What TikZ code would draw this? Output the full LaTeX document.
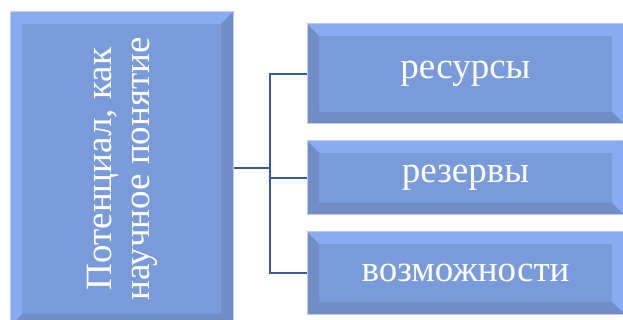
\documentclass[tikz,border=0pt]{standalone}
\usepackage{fontspec}
\setmainfont{Liberation Serif}
\definecolor{boxfill}{RGB}{122,155,218}
\definecolor{bevlight}{RGB}{137,171,241}
\definecolor{bevdark}{RGB}{113,141,197}
\definecolor{edgecol}{RGB}{192,204,228}
\definecolor{conncol}{RGB}{56,88,158}
\newlength\bw \setlength\bw{12pt}
\tikzset{
 bevel/.style n args={4}{path picture={
  \fill[#1] (path picture bounding box.north west) -- (path picture bounding box.north east)
     -- ([shift={(-\bw,-\bw)}]path picture bounding box.north east) -- ([shift={(\bw,-\bw)}]path picture bounding box.north west) -- cycle;
  \fill[#2] (path picture bounding box.north east) -- (path picture bounding box.south east)
     -- ([shift={(-\bw,\bw)}]path picture bounding box.south east) -- ([shift={(-\bw,-\bw)}]path picture bounding box.north east) -- cycle;
  \fill[#3] (path picture bounding box.south east) -- (path picture bounding box.south west)
     -- ([shift={(\bw,\bw)}]path picture bounding box.south west) -- ([shift={(-\bw,\bw)}]path picture bounding box.south east) -- cycle;
  \fill[#4] (path picture bounding box.south west) -- (path picture bounding box.north west)
     -- ([shift={(\bw,-\bw)}]path picture bounding box.north west) -- ([shift={(\bw,\bw)}]path picture bounding box.south west) -- cycle;
 }},
 box/.style={draw=edgecol, line width=1pt, fill=boxfill, inner sep=0pt, text=white,
   font=\fontsize{37}{39}\selectfont},
 leftbox/.style={box, bevel={bevlight}{bevdark}{bevdark}{bevlight}},
 rightbox/.style={box, bevel={bevlight}{bevlight}{bevdark}{bevdark}},
 lbl/.style={text=white, font=\fontsize{37}{38}\selectfont, align=center, inner sep=0pt},
 conn/.style={draw=conncol, line width=2pt}
}
\begin{document}
\begin{tikzpicture}[x=1pt,y=-1pt]
\clip (0,0) rectangle (623,320);
\fill[white] (0,0) rectangle (623,320);
\node[leftbox, minimum width=223pt, minimum height=314pt] (L) at (121.5,169) {};
\node[lbl, rotate=90] (Lt) at (122,169) {Потенциал, как\\научное понятие};
\node[rightbox, minimum width=317pt, minimum height=100pt] (r1) at (465.5,74) {ресурсы};
\node[rightbox, minimum width=317pt, minimum height=74pt] (r2) at (465.5,178) {резервы};
\node[rightbox, minimum width=317pt, minimum height=82pt] (r3) at (465.5,273) {возможности};
\coordinate (j) at (270,168);
\draw[conn] (L.east |- j) -- (j);
\draw[conn] (r1.west) -| (j) |- (r3.west);
\draw[conn] (j |- r2.west) -- (r2.west);
\end{tikzpicture}
\end{document}
